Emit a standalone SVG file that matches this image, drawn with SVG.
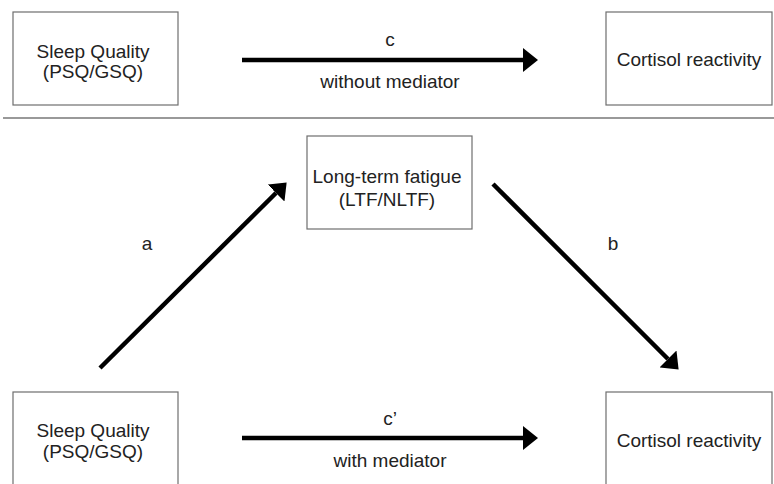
<svg xmlns="http://www.w3.org/2000/svg" width="774" height="484" viewBox="0 0 774 484">
<defs>
<style>
.box{fill:#fff;stroke:#6e6e6e;stroke-width:1.2}
.t{font-family:"Liberation Sans",Arial,sans-serif;font-size:19px;fill:#222;text-anchor:middle}
.arr{stroke:#000;stroke-width:4.5;fill:none;marker-end:url(#ah)}
</style>
<marker id="ah" markerUnits="userSpaceOnUse" markerWidth="15" markerHeight="24" refX="0" refY="12" orient="auto" viewBox="0 0 15 24">
<path d="M0,0 L15,12 L0,24 z" fill="#000"/>
</marker>
</defs>
<rect width="774" height="484" fill="#fff"/>
<line x1="3" y1="118" x2="774" y2="118" stroke="#777" stroke-width="1.5"/>
<g id="sq-top"><rect class="box" x="13" y="12" width="165" height="93"/><text class="t" x="93" y="58">Sleep Quality</text><text class="t" x="93" y="78">(PSQ/GSQ)</text></g>
<g id="cr-top"><rect class="box" x="606" y="12" width="166" height="93"/><text class="t" x="689" y="66">Cortisol reactivity</text></g>
<g id="ltf"><rect class="box" x="307" y="136" width="165" height="93"/><text class="t" x="387" y="183">Long-term fatigue</text><text class="t" x="387" y="206">(LTF/NLTF)</text></g>
<g id="sq-bottom"><rect class="box" x="13" y="392" width="165" height="100"/><text class="t" x="93" y="437">Sleep Quality</text><text class="t" x="93" y="458">(PSQ/GSQ)</text></g>
<g id="cr-bottom"><rect class="box" x="606" y="392" width="166" height="100"/><text class="t" x="689" y="447">Cortisol reactivity</text></g>
<g id="connectors">
<line class="arr" x1="242" y1="60" x2="523" y2="60"/>
<line class="arr" x1="242" y1="438" x2="523" y2="438"/>
<line class="arr" x1="100" y1="368" x2="276" y2="193"/>
<line class="arr" x1="493" y1="184" x2="668" y2="359"/>
<text class="t" x="390" y="46">c</text>
<text class="t" x="390" y="88">without mediator</text>
<text class="t" x="390" y="425">c’</text>
<text class="t" x="390" y="467">with mediator</text>
<text class="t" x="147" y="250">a</text>
<text class="t" x="613" y="250">b</text>
</g>
</svg>
